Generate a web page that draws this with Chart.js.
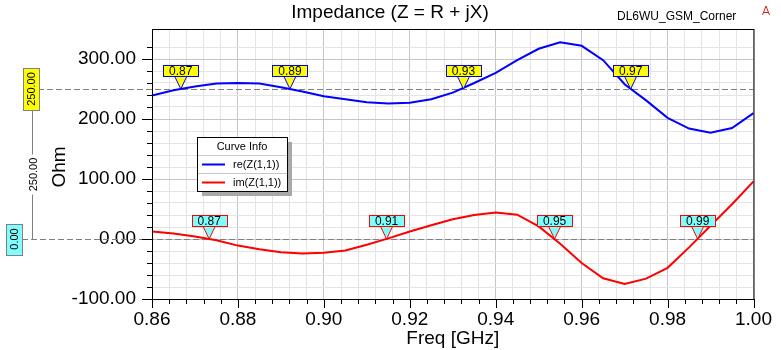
<!DOCTYPE html>
<html lang="en">
<head>
<meta charset="UTF-8">
<title>Impedance (Z = R + jX)</title>
<script src="https://cdn.jsdelivr.net/npm/chart.js"></script>
<style>
  body { margin: 0; background: #fff; }
  #wrap { width: 781px; height: 350px; }
</style>
</head>
<body>
<div id="wrap"><canvas id="zChart" width="781" height="350"></canvas></div>
<script>
// sweep points (GHz) and impedance (Ohm)
const freqGHz = [0.860, 0.865, 0.870, 0.875, 0.880, 0.885, 0.890, 0.895, 0.900, 0.905,
                 0.910, 0.915, 0.920, 0.925, 0.930, 0.935, 0.940, 0.945, 0.950, 0.955,
                 0.960, 0.965, 0.970, 0.975, 0.980, 0.985, 0.990, 0.995, 1.000];
const reZ = [239, 248, 254, 259, 260, 259, 253, 246, 238, 233,
             228, 226, 227, 233, 244, 260, 277, 298, 317, 328,
             322, 298, 258, 231, 202, 184, 177, 185, 210];
const imZ = [12.5, 9, 4, -2, -11, -17, -22, -24, -23, -19,
             -9.5, 1, 12.5, 23, 33, 40, 44, 40.5, 21, -8,
             -40, -65.5, -75, -66, -48, -14, 22, 58, 96];

const seriesNames = ['re(Z(1,1))', 'im(Z(1,1))'];
const seriesColors = ['#0000ff', '#ff0000'];

// marker lines and the frequencies where each curve crosses them
const reLevel = 250;
const imLevel = 0;
const reMarkerFreq = [0.8667, 0.8921, 0.9325, 0.9714];
const imMarkerFreq = [0.8733, 0.9146, 0.9537, 0.9870];

const FONT = '"Liberation Sans", Arial, sans-serif';

const isMultiple = (v, step) => Math.abs(v / step - Math.round(v / step)) < 1e-6;

function drawMarker(ctx, px, py, text, fill, edge) {
  const w = 35, h = 11, tri = 13, half = 6;
  const bx = Math.round(px - w / 2) + 0.5;
  const by = Math.round(py - tri - h) + 0.5;
  ctx.fillStyle = fill;
  ctx.strokeStyle = edge;
  ctx.lineWidth = 1;
  ctx.beginPath();
  ctx.moveTo(px - half, by + h);
  ctx.lineTo(px, py);
  ctx.lineTo(px + half, by + h);
  ctx.closePath();
  ctx.fill();
  ctx.stroke();
  ctx.fillRect(bx, by, w, h);
  ctx.strokeRect(bx, by, w, h);
  ctx.fillStyle = '#000';
  ctx.font = '12px ' + FONT;
  ctx.textAlign = 'center';
  ctx.textBaseline = 'middle';
  ctx.fillText(text, px, by + h / 2 + 1);
}

// vertical value tag on the left of the plot
function drawTag(ctx, cx, cy, w, h, fill, text) {
  const x = Math.round(cx - w / 2) + 0.5, y = Math.round(cy - h / 2) + 0.5;
  ctx.fillStyle = fill;
  ctx.fillRect(x, y, w, h);
  ctx.strokeStyle = '#808080';
  ctx.lineWidth = 1;
  ctx.strokeRect(x, y, w, h);
  ctx.save();
  ctx.translate(cx + 1, cy);
  ctx.rotate(-Math.PI / 2);
  ctx.fillStyle = '#000';
  ctx.font = '11px ' + FONT;
  ctx.textAlign = 'center';
  ctx.textBaseline = 'middle';
  ctx.fillText(text, 0, 0);
  ctx.restore();
}

const decorations = {
  id: 'decorations',
  beforeDatasetsDraw(chart) {
    const { ctx, chartArea: a, scales: { y } } = chart;
    ctx.save();
    ctx.strokeStyle = '#808080';
    ctx.lineWidth = 1;
    ctx.setLineDash([6, 3]);
    [[reLevel, 38], [imLevel, 22]].forEach(([lv, x0]) => {
      const py = Math.round(y.getPixelForValue(lv)) + 0.5;
      ctx.beginPath();
      ctx.moveTo(x0, py);
      ctx.lineTo(a.right, py);
      ctx.stroke();
    });
    ctx.restore();
  },
  afterDatasetsDraw(chart) {
    const { ctx, chartArea: a, scales: { x, y } } = chart;
    ctx.save();

    // frame
    ctx.strokeStyle = '#000';
    ctx.lineWidth = 1;
    ctx.strokeRect(a.left + 0.5, a.top + 0.5, a.right - a.left, a.bottom - a.top);

    // outward tick marks
    ctx.beginPath();
    x.ticks.forEach(t => {
      const px = Math.round(x.getPixelForValue(t.value)) + 0.5;
      const len = isMultiple(t.value, 0.02) ? 9 : 5;
      ctx.moveTo(px, a.bottom);
      ctx.lineTo(px, a.bottom + len);
    });
    y.ticks.forEach(t => {
      if (t.value > 340) return;
      const py = Math.round(y.getPixelForValue(t.value)) + 0.5;
      const len = isMultiple(t.value, 100) ? 10 : 5;
      ctx.moveTo(a.left, py);
      ctx.lineTo(a.left - len, py);
    });
    ctx.stroke();

    // curve markers
    reMarkerFreq.forEach(f => drawMarker(ctx, x.getPixelForValue(f), y.getPixelForValue(reLevel),
      f.toFixed(2), '#ffff00', '#0000ff'));
    imMarkerFreq.forEach(f => drawMarker(ctx, x.getPixelForValue(f), y.getPixelForValue(imLevel),
      f.toFixed(2), '#80ffff', '#ff0000'));

    // level tags and the delta between them
    const yRe = y.getPixelForValue(reLevel), yIm = y.getPixelForValue(imLevel);
    const dx = 32.5;
    const top = Math.round(yRe + 21), bot = Math.round(yIm);
    const mid = (top + bot) / 2;
    ctx.strokeStyle = '#808080';
    ctx.beginPath();
    ctx.moveTo(dx, top); ctx.lineTo(dx, mid - 20);
    ctx.moveTo(dx, mid + 20); ctx.lineTo(dx, bot);
    ctx.stroke();
    ctx.save();
    ctx.translate(dx + 1, mid);
    ctx.rotate(-Math.PI / 2);
    ctx.fillStyle = '#000';
    ctx.font = '11px ' + FONT;
    ctx.textAlign = 'center';
    ctx.textBaseline = 'middle';
    ctx.fillText((reLevel - imLevel).toFixed(2), 0, 0);
    ctx.restore();
    drawTag(ctx, 30.5, yRe, 16, 42, '#ffff00', reLevel.toFixed(2));
    drawTag(ctx, 13.5, yIm, 16, 31, '#80ffff', imLevel.toFixed(2));

    // curve info box
    const lx = 197, ly = 137, lw = 90, lh = 54;
    ctx.fillStyle = '#a8a8a8';
    ctx.fillRect(lx + 5, ly + 5, lw, lh);
    ctx.fillStyle = '#fff';
    ctx.fillRect(lx, ly, lw, lh);
    ctx.strokeStyle = '#000';
    ctx.strokeRect(lx + 0.5, ly + 0.5, lw, lh);
    ctx.strokeStyle = '#c8c8c8';
    ctx.beginPath();
    ctx.moveTo(lx + 1, ly + 18.5); ctx.lineTo(lx + lw, ly + 18.5);
    ctx.moveTo(lx + 1, ly + 36.5); ctx.lineTo(lx + lw, ly + 36.5);
    ctx.stroke();
    ctx.font = '11px ' + FONT;
    ctx.fillStyle = '#000';
    ctx.textBaseline = 'middle';
    ctx.textAlign = 'center';
    ctx.fillText('Curve Info', lx + lw / 2, ly + 10);
    ctx.textAlign = 'left';
    seriesNames.forEach((name, i) => {
      const ry = ly + 27.5 + i * 18;
      ctx.strokeStyle = seriesColors[i];
      ctx.lineWidth = 2;
      ctx.beginPath();
      ctx.moveTo(lx + 5, ry); ctx.lineTo(lx + 28, ry);
      ctx.stroke();
      ctx.fillStyle = '#000';
      ctx.fillText(name, lx + 36, ry);
    });
    ctx.restore();
  },
  afterDraw(chart) {
    const { ctx, chartArea: a } = chart;
    ctx.save();
    ctx.fillStyle = '#000';
    ctx.textAlign = 'center';
    ctx.textBaseline = 'alphabetic';
    ctx.font = '19px ' + FONT;
    ctx.fillText('Impedance (Z = R + jX)', 390, 18);
    ctx.font = '12px ' + FONT;
    ctx.textAlign = 'left';
    ctx.fillText('DL6WU_GSM_Corner', 617, 20);
    // small logo mark
    ctx.strokeStyle = '#d02020';
    ctx.lineWidth = 1;
    ctx.beginPath();
    ctx.moveTo(762.5, 15); ctx.lineTo(766, 6); ctx.lineTo(769.5, 15);
    ctx.moveTo(764, 12.5); ctx.lineTo(768, 12.5);
    ctx.stroke();
    ctx.textAlign = 'center';
    ctx.textBaseline = 'middle';
    ctx.font = '19px ' + FONT;
    ctx.fillText('Freq [GHz]', (a.left + a.right) / 2, 339);
    ctx.translate(60, 167);
    ctx.rotate(-Math.PI / 2);
    ctx.fillText('Ohm', 0, 0);
    ctx.restore();
  }
};

const ctx = document.getElementById('zChart').getContext('2d');

new Chart(ctx, {
  type: 'line',
  data: {
    datasets: [
      {
        label: seriesNames[0],
        data: freqGHz.map((f, i) => ({ x: f, y: reZ[i] })),
        borderColor: seriesColors[0],
        borderWidth: 2,
        pointRadius: 0,
        tension: 0
      },
      {
        label: seriesNames[1],
        data: freqGHz.map((f, i) => ({ x: f, y: imZ[i] })),
        borderColor: seriesColors[1],
        borderWidth: 2,
        pointRadius: 0,
        tension: 0
      }
    ]
  },
  options: {
    responsive: false,
    animation: false,
    devicePixelRatio: 1,
    layout: { padding: { top: 29, right: 26, left: 0, bottom: 0 } },
    plugins: {
      legend: { display: false },
      title: { display: false },
      tooltip: { enabled: false }
    },
    scales: {
      x: {
        type: 'linear',
        min: 0.86,
        max: 1.0,
        afterFit(scale) { scale.height = 51; },
        border: { display: false },
        grid: {
          drawTicks: false,
          color: c => isMultiple(c.tick.value, 0.02) ? '#c4c4cc' : '#e4e4e4'
        },
        ticks: {
          stepSize: 0.004,
          autoSkip: false,
          maxRotation: 0,
          padding: 9,
          color: '#000',
          font: { family: FONT, size: 19 },
          callback: v => isMultiple(v, 0.02) ? v.toFixed(2) : ''
        }
      },
      y: {
        min: -100,
        max: 350,
        afterFit(scale) { scale.width = 152; },
        border: { display: false },
        grid: {
          drawTicks: false,
          color: c => isMultiple(c.tick.value, 100) ? '#c4c4cc' : '#e4e4e4'
        },
        ticks: {
          stepSize: 20,
          autoSkip: false,
          padding: 16,
          color: '#000',
          font: { family: FONT, size: 19 },
          callback: v => isMultiple(v, 100) ? v.toFixed(2) : ''
        }
      }
    }
  },
  plugins: [decorations]
});
</script>
</body>
</html>
